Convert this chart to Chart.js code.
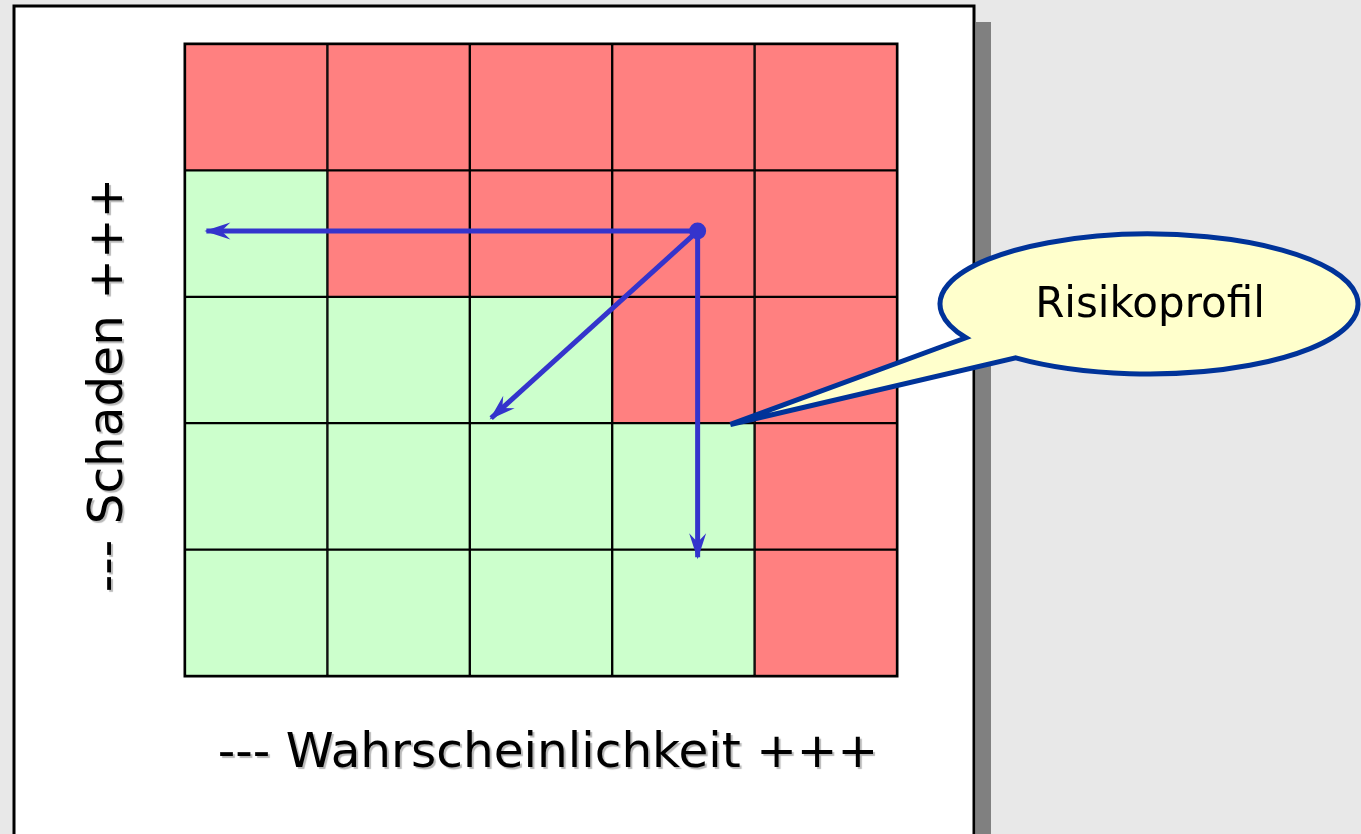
<!DOCTYPE html>
<html>
<head>
<meta charset="utf-8">
<title>Risikoprofil</title>
<script src="https://cdn.jsdelivr.net/npm/chart.js@4.4.1/dist/chart.umd.min.js"></script>
<style>
  html, body { margin: 0; padding: 0; background: #e8e8e8; }
  canvas { display: block; }
</style>
</head>
<body>
<canvas id="riskChart" width="1361" height="834"></canvas>
<script>
// columns = Wahrscheinlichkeit, rows = Schaden (bottom -> top)
const probLabels = ['1', '2', '3', '4', '5'];
const damageLevels = ['1', '2', '3', '4', '5'];
const riskRows = [
  ['G', 'G', 'G', 'G', 'R'],
  ['G', 'G', 'G', 'G', 'R'],
  ['G', 'G', 'G', 'R', 'R'],
  ['G', 'R', 'R', 'R', 'R'],
  ['R', 'R', 'R', 'R', 'R']
];
const cellSize = [1, 1, 1, 1, 1];

// risk profile point and where its arrows go (grid units, 0..5)
const profilePoint = { x: 3.6, y: 3.52 };
const arrowEnds = [
  { x: 0.15, y: 3.52 },
  { x: 2.15, y: 2.04 },
  { x: 3.6, y: 0.94 }
];
const calloutTip = { x: 3.83, y: 1.99 };

const xTitle = '--- Wahrscheinlichkeit +++';
const yTitle = '--- Schaden +++';
const calloutText = 'Risikoprofil';

const RED = '#ff8080';
const GREEN = '#ccffcc';
const BLUE = '#3434cc';
const FONT = '"DejaVu Sans", Verdana, sans-serif';

const cellDatasets = damageLevels.map((lvl, i) => ({
  type: 'bar',
  label: 'Schaden ' + lvl,
  data: cellSize,
  stack: 'cells',
  grouped: false,
  backgroundColor: riskRows[i].map(c => c === 'R' ? RED : GREEN),
  borderColor: '#000',
  borderWidth: 1.5,
  borderSkipped: false,
  barPercentage: 1,
  categoryPercentage: 1,
  order: 1
}));

const arrowDatasets = arrowEnds.map((end, i) => ({
  type: 'line',
  label: 'Pfeil ' + (i + 1),
  data: [profilePoint, end],
  xAxisID: 'ax',
  yAxisID: 'ay',
  borderColor: BLUE,
  borderWidth: 5,
  pointRadius: [i === 0 ? 8.5 : 0, 0],
  pointBackgroundColor: BLUE,
  pointBorderWidth: 0,
  fill: false,
  tension: 0,
  order: -1
}));

// page, panel and shadow behind the chart
const panelPlugin = {
  id: 'panel',
  beforeDraw(chart) {
    const ctx = chart.ctx;
    ctx.save();
    ctx.fillStyle = '#e8e8e8';
    ctx.fillRect(0, 0, chart.width, chart.height);
    ctx.fillStyle = '#808080';
    ctx.fillRect(976, 22, 15, chart.height);
    ctx.fillStyle = '#fff';
    ctx.fillRect(14, 6, 961, chart.height);
    ctx.strokeStyle = '#000';
    ctx.lineWidth = 3;
    ctx.strokeRect(14, 6, 960, chart.height + 10);
    // outer frame of the matrix
    const a = chart.chartArea;
    ctx.lineWidth = 3;
    ctx.strokeRect(a.left, a.top, a.right - a.left, a.bottom - a.top);
    ctx.restore();
  }
};

function drawArrowHead(ctx, from, to) {
  const a = Math.atan2(to.y - from.y, to.x - from.x);
  const dx = Math.cos(a), dy = Math.sin(a);
  const L = 26, W = 8.5, N = 17;
  const tip = { x: to.x + dx * 2, y: to.y + dy * 2 };
  ctx.beginPath();
  ctx.moveTo(tip.x, tip.y);
  ctx.lineTo(tip.x - dx * L - dy * W, tip.y - dy * L + dx * W);
  ctx.lineTo(tip.x - dx * N, tip.y - dy * N);
  ctx.lineTo(tip.x - dx * L + dy * W, tip.y - dy * L - dx * W);
  ctx.closePath();
  ctx.fill();
}

const arrowPlugin = {
  id: 'arrows',
  afterDatasetsDraw(chart) {
    const ctx = chart.ctx;
    ctx.save();
    ctx.fillStyle = BLUE;
    chart.data.datasets.forEach((ds, i) => {
      if (ds.type !== 'line') return;
      const pts = chart.getDatasetMeta(i).data;
      drawArrowHead(ctx, pts[0], pts[1]);
    });
    ctx.restore();
  }
};

// axis titles and the speech bubble
const textPlugin = {
  id: 'texts',
  afterDraw(chart) {
    const ctx = chart.ctx;
    const xs = chart.scales.ax, ys = chart.scales.ay;
    ctx.save();
    ctx.fillStyle = '#000';
    ctx.font = '48.5px ' + FONT;
    ctx.shadowColor = 'rgba(0,0,0,0.28)';
    ctx.shadowOffsetX = 2;
    ctx.shadowOffsetY = 2;
    ctx.shadowBlur = 1;
    ctx.textAlign = 'center';
    ctx.textBaseline = 'alphabetic';
    ctx.fillText(xTitle, 548, 767);
    ctx.save();
    ctx.translate(122, 385);
    ctx.rotate(-Math.PI / 2);
    ctx.fillText(yTitle, 0, 0);
    ctx.restore();
    ctx.restore();

    // callout
    const cx = 1149, cy = 304, rx = 209, ry = 70;
    const a1 = Math.atan2((337 - cy) / ry, (970 - cx) / rx);
    const a2 = Math.atan2((357 - cy) / ry, (1018 - cx) / rx);
    const tx = xs.getPixelForValue(calloutTip.x);
    const ty = ys.getPixelForValue(calloutTip.y);
    ctx.save();
    ctx.beginPath();
    ctx.moveTo(tx, ty);
    ctx.lineTo(cx + rx * Math.cos(a1), cy + ry * Math.sin(a1));
    ctx.ellipse(cx, cy, rx, ry, 0, a1, a2, false);
    ctx.closePath();
    ctx.fillStyle = '#ffffcc';
    ctx.fill();
    ctx.lineWidth = 5;
    ctx.lineJoin = 'miter';
    ctx.strokeStyle = '#003399';
    ctx.stroke();
    ctx.fillStyle = '#000';
    ctx.font = '42px ' + FONT;
    ctx.textAlign = 'center';
    ctx.textBaseline = 'middle';
    ctx.fillText(calloutText, 1150, 306);
    ctx.restore();
  }
};

new Chart(document.getElementById('riskChart'), {
  type: 'bar',
  data: {
    labels: probLabels,
    datasets: [...arrowDatasets, ...cellDatasets]
  },
  options: {
    responsive: false,
    animation: false,
    layout: { padding: { left: 185, top: 44, right: 464, bottom: 158 } },
    plugins: { legend: { display: false }, tooltip: { enabled: false } },
    scales: {
      x: { display: false, stacked: true, offset: true },
      y: { display: false, stacked: true, min: 0, max: 5 },
      ax: { type: 'linear', position: 'bottom', display: false, min: 0, max: 5, offset: false },
      ay: { type: 'linear', position: 'left', display: false, min: 0, max: 5 }
    }
  },
  plugins: [panelPlugin, arrowPlugin, textPlugin]
});
</script>
</body>
</html>
